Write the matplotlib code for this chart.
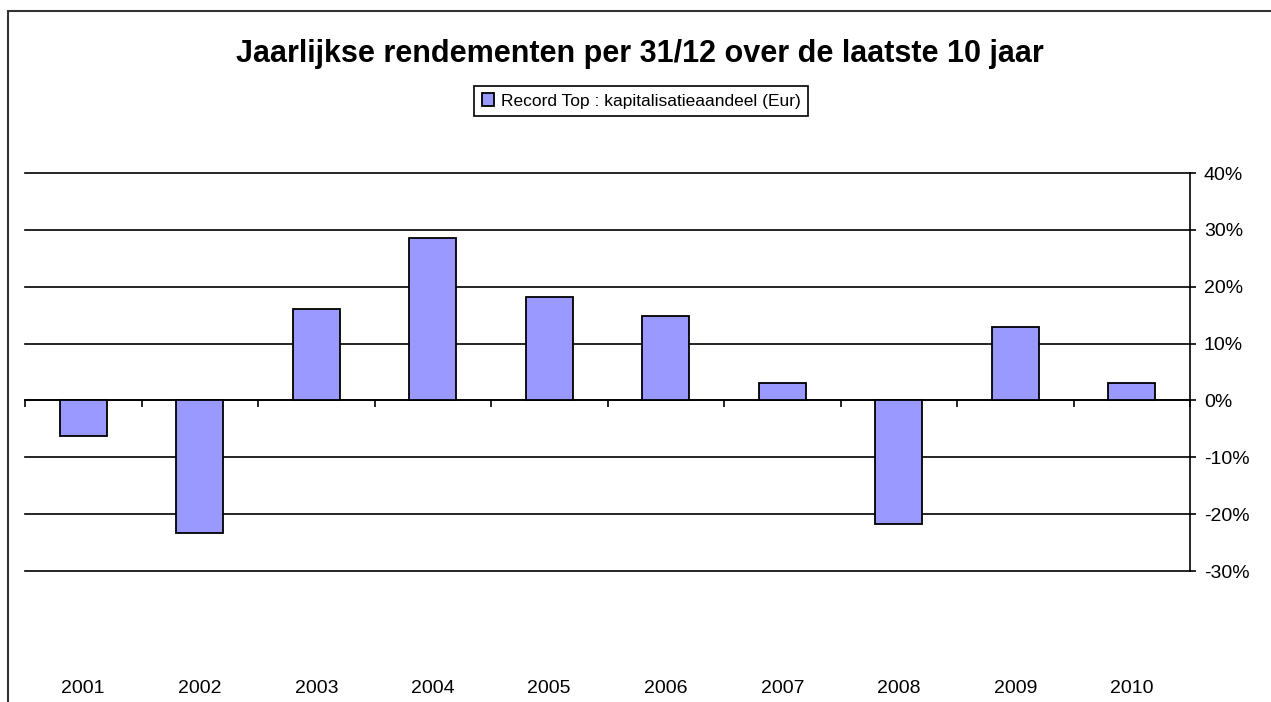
import matplotlib
matplotlib.use("Agg")
import matplotlib.pyplot as plt
from matplotlib.patches import Rectangle
from matplotlib.ticker import FuncFormatter
import numpy as np

# data
years = ["2001", "2002", "2003", "2004", "2005", "2006", "2007", "2008", "2009", "2010"]
returns = [-0.063, -0.233, 0.160, 0.286, 0.182, 0.149, 0.030, -0.217, 0.130, 0.030]
y_ticks = [-0.3, -0.2, -0.1, 0.0, 0.1, 0.2, 0.3, 0.4]
series_label = "Record Top : kapitalisatieaandeel (Eur)"
title = "Jaarlijkse rendementen per 31/12 over de laatste 10 jaar"

plt.rcParams["font.family"] = ["Liberation Sans", "DejaVu Sans"]

W, H = 1271, 702
fig = plt.figure(figsize=(W / 100, H / 100), dpi=100)
ax = fig.add_axes([25 / W, (H - 571) / H, (1190 - 25) / W, (571 - 173) / H])

x = np.arange(len(years))
ax.bar(x, returns, width=0.4, color="#9999FF", edgecolor="black", linewidth=1.3,
       label=series_label, zorder=3)

ax.set_xlim(-0.5, len(years) - 0.5)
ax.set_ylim(min(y_ticks), max(y_ticks))

# horizontal gridlines
ax.set_yticks(y_ticks)
ax.yaxis.grid(True, color="black", lw=1.2)
ax.set_axisbelow(True)
for gl in ax.get_ygridlines():
    gl.set_clip_on(False)

# value axis on the right
ax.yaxis.tick_right()
ax.yaxis.set_major_formatter(FuncFormatter(lambda v, _: f"{v * 100:.0f}%"))
ax.tick_params(axis="y", direction="out", length=4, width=1.2, pad=6,
               labelsize=14, colors="black")

# category axis crossing at zero, labels placed low
for s in ("left", "top"):
    ax.spines[s].set_visible(False)
ax.spines["right"].set_linewidth(1.2)
ax.spines["bottom"].set_position(("data", 0))
ax.spines["bottom"].set_linewidth(1.2)
ax.set_xticks(x)
ax.set_xticklabels(years)
ax.set_xticks(np.arange(len(years) + 1) - 0.5, minor=True)
ax.tick_params(axis="x", which="major", length=0, pad=201, labelsize=14)
ax.tick_params(axis="x", which="minor", direction="out", length=5, width=1.2)

fig.text(640 / W, (H - 54) / H, title, ha="center", va="center",
         fontsize=22, fontweight="bold")

leg = ax.legend(loc="center", bbox_to_anchor=(641 / W, (H - 101) / H),
                bbox_transform=fig.transFigure, fancybox=False, shadow=False,
                edgecolor="black", fontsize=12.5, handlelength=0.7, handleheight=0.7,
                handletextpad=0.4, borderpad=0.45, framealpha=1)
leg.get_frame().set_linewidth(1.2)

# outer chart frame
fig.add_artist(Rectangle((8 / W, -0.1), 1.2, (H - 11) / H + 0.1,
                         transform=fig.transFigure, fill=False,
                         edgecolor="#333333", lw=1.5))

fig.savefig("out.png", dpi=100)
